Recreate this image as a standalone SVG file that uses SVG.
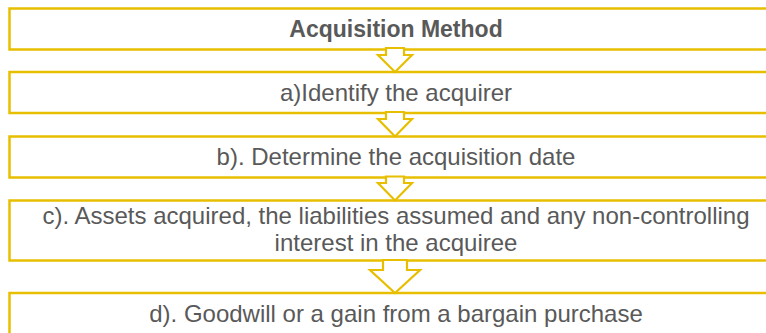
<svg xmlns="http://www.w3.org/2000/svg" width="766" height="333" viewBox="0 0 766 333">
<style>
.box{fill:#fff;stroke:#E8BF00;stroke-width:2.5}
.arr{fill:#fff;stroke:#E8BF00;stroke-width:2.2;stroke-linejoin:miter}
.t{font-family:"Liberation Sans",Arial,sans-serif;font-size:24px;fill:#595959;text-anchor:middle}
.b{font-weight:bold;font-size:23px}
</style>
<rect width="766" height="333" fill="#fff"/>
<g id="n0"><rect class="box" x="9.5" y="8.5" width="800" height="41"/><text class="t b" x="396" y="37">Acquisition Method</text></g>
<g id="n1"><rect class="box" x="9.5" y="72" width="800" height="41"/><text class="t" x="396" y="101">a)Identify the acquirer</text></g>
<g id="n2"><rect class="box" x="9.5" y="136.5" width="800" height="41"/><text class="t" x="396" y="165">b). Determine the acquisition date</text></g>
<g id="n3"><rect class="box" x="9.5" y="200.5" width="800" height="60"/><text class="t" x="396" y="224">c). Assets acquired, the liabilities assumed and any non-controlling</text><text class="t" x="396" y="251">interest in the acquiree</text></g>
<g id="n4"><rect class="box" x="9.5" y="293" width="800" height="60"/><text class="t" x="396" y="322">d). Goodwill or a gain from a bargain purchase</text></g>
<g id="connectors">
<polygon class="arr" points="386,48 404,48 404,55 412,55 395,72 378,55 386,55"/>
<polygon class="arr" points="386,112 404,112 404,119 412,119 395,136.5 378,119 386,119"/>
<polygon class="arr" points="386,176.5 404,176.5 404,183 412,183 395,200.5 378,183 386,183"/>
<polygon class="arr" points="383,260 407,260 407,270 420,270 395,293 370,270 383,270"/>
</g>
</svg>
